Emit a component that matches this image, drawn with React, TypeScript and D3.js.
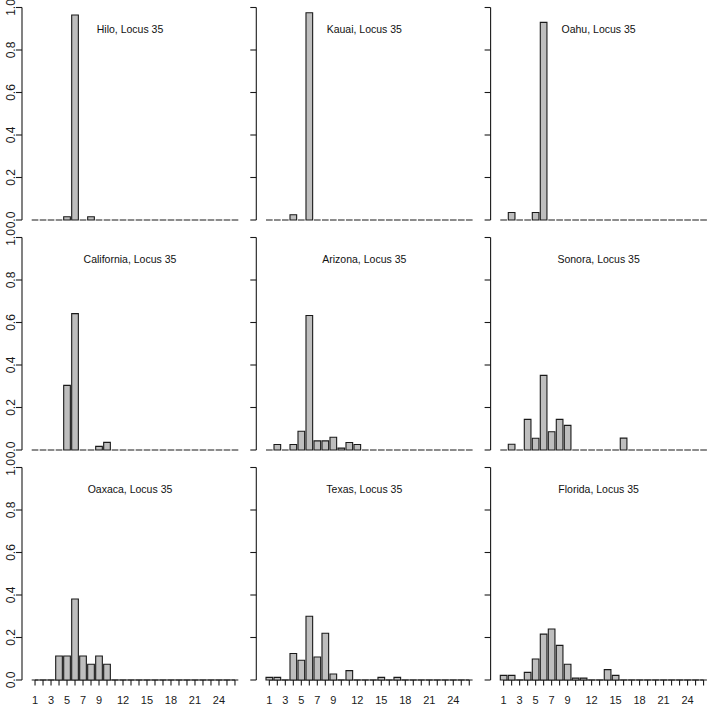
import * as d3 from "d3";
import React from "react";

// allele size classes 1..26, one bar each
const alleles = d3.range(1, 27);
const xLabels = [1, 3, 5, 7, 9, 12, 15, 18, 21, 24];
const yTicks = [0, 0.2, 0.4, 0.6, 0.8, 1.0];

const hilo = [0, 0, 0, 0, 0.015, 0.965, 0, 0.015, 0, 0, 0, 0, 0, 0, 0, 0, 0, 0, 0, 0, 0, 0, 0, 0, 0, 0];
const kauai = [0, 0, 0, 0.025, 0, 0.975, 0, 0, 0, 0, 0, 0, 0, 0, 0, 0, 0, 0, 0, 0, 0, 0, 0, 0, 0, 0];
const oahu = [0, 0.035, 0, 0, 0.035, 0.93, 0, 0, 0, 0, 0, 0, 0, 0, 0, 0, 0, 0, 0, 0, 0, 0, 0, 0, 0, 0];
const california = [0, 0, 0, 0, 0.304, 0.642, 0, 0, 0.017, 0.036, 0, 0, 0, 0, 0, 0, 0, 0, 0, 0, 0, 0, 0, 0, 0, 0];
const arizona = [0, 0.026, 0, 0.026, 0.088, 0.633, 0.043, 0.043, 0.06, 0.009, 0.035, 0.026, 0, 0, 0, 0, 0, 0, 0, 0, 0, 0, 0, 0, 0, 0];
const sonora = [0, 0.027, 0, 0.144, 0.055, 0.351, 0.086, 0.144, 0.116, 0, 0, 0, 0, 0, 0, 0.056, 0, 0, 0, 0, 0, 0, 0, 0, 0, 0];
const oaxaca = [0, 0, 0, 0.113, 0.113, 0.381, 0.113, 0.074, 0.113, 0.074, 0, 0, 0, 0, 0, 0, 0, 0, 0, 0, 0, 0, 0, 0, 0, 0];
const texas = [0.0125, 0.0125, 0, 0.125, 0.093, 0.3, 0.108, 0.22, 0.028, 0, 0.044, 0, 0, 0, 0.0125, 0, 0.0125, 0, 0, 0, 0, 0, 0, 0, 0, 0];
const florida = [0.022, 0.022, 0, 0.036, 0.099, 0.216, 0.24, 0.163, 0.074, 0.009, 0.009, 0, 0, 0.049, 0.022, 0, 0, 0, 0, 0, 0, 0, 0, 0, 0, 0];

const panelNames = ["Hilo", "Kauai", "Oahu", "California", "Arizona", "Sonora", "Oaxaca", "Texas", "Florida"];
const panelValues = [hilo, kauai, oahu, california, arizona, sonora, oaxaca, texas, florida];
const locus = "Locus 35";

const W = 709;
const H = 705;
const font = "'Liberation Sans', Arial, Helvetica, sans-serif";
const ink = "#1a1a1a";

interface PanelProps {
  name: string;
  values: number[];
  col: number;
  row: number;
}

const Panel: React.FC<PanelProps> = ({ name, values, col, row }) => {
  const axisX = 22 + col * 234.3;
  const base = 220 + row * 230;
  const top = base - 212.5;

  const x = d3.scaleBand<number>()
    .domain(alleles)
    .range([axisX + 9.7, axisX + 216.3])
    .paddingInner(1 / 6)
    .paddingOuter(0);
  const y = d3.scaleLinear().domain([0, 1]).range([base, top]);

  const bw = x.bandwidth();
  const first = x(1)! + bw / 2;
  const last = x(26)! + bw / 2;

  return (
    <g>
      {/* y axis */}
      <line x1={axisX} x2={axisX} y1={y(0)} y2={y(1)} stroke={ink} strokeWidth={1.1} />
      {yTicks.map(t => (
        <g key={t}>
          <line x1={axisX - 6} x2={axisX} y1={y(t)} y2={y(t)} stroke={ink} strokeWidth={1.1} />
          {col === 0 && (
            <text
              transform={`translate(${axisX - 7},${y(t)}) rotate(-90)`}
              textAnchor="middle"
              fontSize={12}
              fontFamily={font}
              fill={ink}
            >
              {d3.format(".1f")(t)}
            </text>
          )}
        </g>
      ))}

      {/* x axis only on the bottom row */}
      {row === 2 && (
        <g>
          <line x1={first} x2={last} y1={base} y2={base} stroke={ink} strokeWidth={1.1} />
          {alleles.map(a => (
            <line key={a} x1={x(a)! + bw / 2} x2={x(a)! + bw / 2} y1={base} y2={base + 5.5}
              stroke={ink} strokeWidth={1.1} />
          ))}
          {xLabels.map(a => (
            <text key={a} x={x(a)! + bw / 2} y={base + 24} textAnchor="middle"
              fontSize={11} fontFamily={font} fill={ink}>
              {a}
            </text>
          ))}
        </g>
      )}

      {/* bars, zero-height ones still draw their outline */}
      {values.map((v, i) => {
        const x0 = x(alleles[i])!;
        const x1 = x0 + bw;
        const y0 = y(0);
        const y1 = y(v);
        return (
          <path key={i}
            d={`M${x0},${y0}L${x0},${y1}L${x1},${y1}L${x1},${y0}Z`}
            fill="#BEBEBE" stroke={ink} strokeWidth={1.1} />
        );
      })}

      <text x={axisX + 108} y={top + 25} textAnchor="middle" fontSize={10.5}
        fontFamily={font} fill="#111">
        {`${name}, ${locus}`}
      </text>
    </g>
  );
};

export default function App() {
  return (
    <svg width={W} height={H} style={{ position: "absolute", left: 0, top: 0, background: "#fff" }}>
      <rect width={W} height={H} fill="#fff" />
      {panelNames.map((n, i) => (
        <Panel key={n} name={n} values={panelValues[i]} col={i % 3} row={Math.floor(i / 3)} />
      ))}
    </svg>
  );
}
